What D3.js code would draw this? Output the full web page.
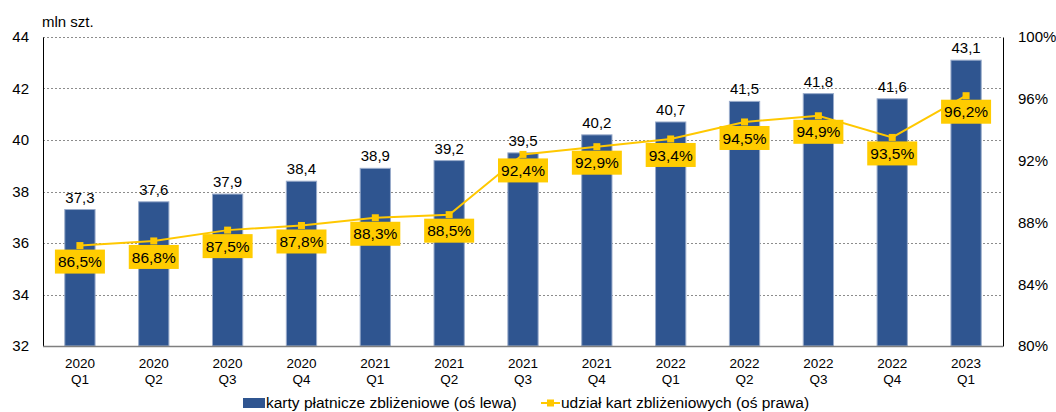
<!DOCTYPE html>
<html>
<head>
<meta charset="utf-8">
<script src="https://cdn.jsdelivr.net/npm/d3@7"></script>
<style>
  body { margin: 0; background: #fff; }
  svg text { font-family: Arial, "Liberation Sans", sans-serif; fill: #000; }
</style>
</head>
<body>
<div id="chart"></div>
<script>
// data
const years = ['2020', '2020', '2020', '2020', '2021', '2021', '2021', '2021', '2022', '2022', '2022', '2022', '2023'];
const quarters = ['Q1', 'Q2', 'Q3', 'Q4', 'Q1', 'Q2', 'Q3', 'Q4', 'Q1', 'Q2', 'Q3', 'Q4', 'Q1'];
const cards = [37.3, 37.6, 37.9, 38.4, 38.9, 39.2, 39.5, 40.2, 40.7, 41.5, 41.8, 41.6, 43.1];
const share = [86.5, 86.8, 87.5, 87.8, 88.3, 88.5, 92.4, 92.9, 93.4, 94.5, 94.9, 93.5, 96.2];
const leftTicks = [32, 34, 36, 38, 40, 42, 44];
const rightTicks = [80, 84, 88, 92, 96, 100];

const W = 1056, H = 412;
const margin = { top: 37, right: 53, bottom: 66, left: 43 };
const innerW = W - margin.left - margin.right;
const innerH = H - margin.top - margin.bottom;
const font = 'Arial, "Liberation Sans", sans-serif';

const svg = d3.select('#chart').append('svg')
  .attr('width', W)
  .attr('height', H);

const g = svg.append('g')
  .attr('transform', `translate(${margin.left},${margin.top})`);

const idx = cards.map((d, i) => i);
const x = d3.scaleBand().domain(idx).range([0, innerW]).paddingInner(0.59).paddingOuter(0.295);
const xc = i => x(i) + x.bandwidth() / 2;
const yL = d3.scaleLinear().domain([32, 44]).range([innerH, 0]);
const yR = d3.scaleLinear().domain([80, 100]).range([innerH, 0]);

const fmt = v => v.toFixed(1).replace('.', ',');

// gridlines
g.append('g')
  .selectAll('line')
  .data(leftTicks.filter(t => t > 32))
  .enter()
  .append('line')
  .attr('x1', 0)
  .attr('x2', innerW)
  .attr('y1', d => Math.round(yL(d)) + 0.5)
  .attr('y2', d => Math.round(yL(d)) + 0.5)
  .attr('stroke', '#8c8c8c')
  .attr('stroke-width', 1)
  .attr('stroke-dasharray', '2,2');

// bars
g.selectAll('.bar')
  .data(cards)
  .enter()
  .append('rect')
  .attr('class', 'bar')
  .attr('x', (d, i) => x(i))
  .attr('width', x.bandwidth())
  .attr('y', d => yL(d))
  .attr('height', d => innerH - yL(d))
  .attr('fill', '#2F5590')
  .attr('stroke', '#9aaccb')
  .attr('stroke-width', 1);

// bar value labels
g.selectAll('.barlab')
  .data(cards)
  .enter()
  .append('text')
  .attr('x', (d, i) => xc(i))
  .attr('y', d => yL(d) - 7)
  .attr('text-anchor', 'middle')
  .style('font-size', '15px')
  .text(d => fmt(d));

// left axis
const axL = g.append('g').call(d3.axisLeft(yL).tickValues(leftTicks).tickSize(0).tickPadding(14));
axL.select('.domain').attr('stroke', '#000');
axL.selectAll('text').style('font-size', '15px').style('font-family', font);

// right axis
const axR = g.append('g')
  .attr('transform', `translate(${innerW},0)`)
  .call(d3.axisRight(yR).tickValues(rightTicks).tickSize(0).tickPadding(15).tickFormat(d => d + '%'));
axR.select('.domain').attr('stroke', '#000');
axR.selectAll('text').style('font-size', '15px').style('font-family', font);

// bottom axis line
g.append('line')
  .attr('x1', 0).attr('x2', innerW)
  .attr('y1', innerH + 0.5).attr('y2', innerH + 0.5)
  .attr('stroke', '#7f7f7f').attr('stroke-width', 1.5);

// category labels (two lines)
const cat = g.selectAll('.cat')
  .data(idx)
  .enter()
  .append('text')
  .attr('text-anchor', 'middle')
  .style('font-size', '13.5px');
cat.append('tspan').attr('x', i => xc(i)).attr('y', innerH + 22).text(i => years[i]);
cat.append('tspan').attr('x', i => xc(i)).attr('y', innerH + 38).text(i => quarters[i]);

// share line
const line = d3.line().x((d, i) => xc(i)).y(d => yR(d));
g.append('path')
  .datum(share)
  .attr('d', line)
  .attr('fill', 'none')
  .attr('stroke', '#FFC800')
  .attr('stroke-width', 2);

g.selectAll('.pt')
  .data(share)
  .enter()
  .append('rect')
  .attr('x', (d, i) => xc(i) - 3.5)
  .attr('y', d => yR(d) - 3.5)
  .attr('width', 7)
  .attr('height', 7)
  .attr('fill', '#FFC800');

// share labels in yellow boxes
const lab = g.selectAll('.sharelab')
  .data(share)
  .enter()
  .append('g')
  .attr('transform', (d, i) => `translate(${xc(i)},${yR(d) + 16})`);
lab.append('rect')
  .attr('x', -25)
  .attr('y', -12)
  .attr('width', 50)
  .attr('height', 24)
  .attr('fill', '#FFCC00');
lab.append('text')
  .attr('text-anchor', 'middle')
  .attr('dy', '0.36em')
  .style('font-size', '15.5px')
  .text(d => fmt(d) + '%');

// y-axis title
svg.append('text')
  .attr('x', 42)
  .attr('y', 27)
  .style('font-size', '15px')
  .text('mln szt.');

// legend
const leg = svg.append('g').attr('transform', 'translate(0,403)');
leg.append('rect').attr('x', 243).attr('y', -5).attr('width', 22).attr('height', 10).attr('fill', '#2F5590');
leg.append('text').attr('x', 266).attr('y', 0).attr('dy', '0.35em').style('font-size', '15.5px')
  .text('karty płatnicze zbliżeniowe (oś lewa)');
leg.append('line').attr('x1', 541).attr('x2', 560).attr('y1', 0).attr('y2', 0)
  .attr('stroke', '#FFC800').attr('stroke-width', 2);
leg.append('rect').attr('x', 547).attr('y', -3.5).attr('width', 7).attr('height', 7).attr('fill', '#FFC800');
leg.append('text').attr('x', 561).attr('y', 0).attr('dy', '0.35em').style('font-size', '15.5px')
  .text('udział kart zbliżeniowych (oś prawa)');
</script>
</body>
</html>
